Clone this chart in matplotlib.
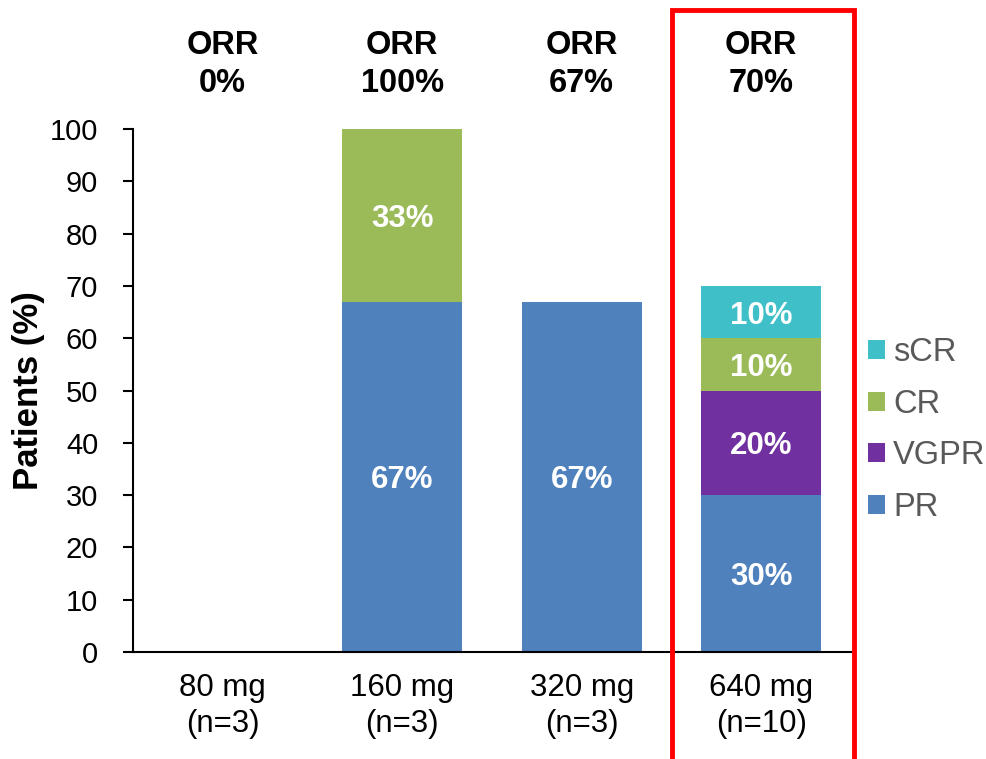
import matplotlib
matplotlib.use("Agg")
import matplotlib.pyplot as plt
from matplotlib.patches import Patch, Rectangle
import numpy as np

plt.rcParams['font.family'] = ['Liberation Sans', 'DejaVu Sans']

doses = ["80 mg\n(n=3)", "160 mg\n(n=3)", "320 mg\n(n=3)", "640 mg\n(n=10)"]
orr = ["ORR\n0%", "ORR\n100%", "ORR\n67%", "ORR\n70%"]
series_names = ["PR", "VGPR", "CR", "sCR"]
pr = [0, 67, 67, 30]
vgpr = [0, 0, 0, 20]
cr = [0, 33, 0, 10]
scr = [0, 0, 0, 10]
colors = ["#4F81BD", "#7030A0", "#9BBB59", "#3FC0C9"]
yticks = [0, 10, 20, 30, 40, 50, 60, 70, 80, 90, 100]

fig = plt.figure(figsize=(9.86, 7.59), dpi=100)
ax = fig.add_axes([133/986, 1-652/759, 718/986, (652-129)/759])

x = np.arange(len(doses))
bottom = np.zeros(len(doses))
for vals, name, c in zip([pr, vgpr, cr, scr], series_names, colors):
    vals = np.array(vals, dtype=float)
    ax.bar(x, vals, width=0.667, bottom=bottom, color=c, label=name)
    for xi, v, b in zip(x, vals, bottom):
        if v > 0:
            ax.text(xi, b + v/2, f"{int(v)}%", ha='center', va='center_baseline',
                    color='white', fontsize=22.5, fontweight='bold')
    bottom += vals

ax.set_xlim(-0.5, 3.5)
ax.set_ylim(0, 100)
ax.set_yticks(yticks)
ax.set_xticks(x)
ax.set_xticklabels(doses, fontsize=22.5, linespacing=1.27)
ax.tick_params(axis='y', labelsize=21, length=7, width=1.5, direction='out', pad=18)
ax.tick_params(axis='x', length=0, pad=15)
for s in ['top', 'right']:
    ax.spines[s].set_visible(False)
for s in ['left', 'bottom']:
    ax.spines[s].set_linewidth(1.5)
ax.set_ylabel("Patients (%)", fontsize=25, fontweight='bold')
ax.yaxis.set_label_coords(-0.1226, 0.5)

for xi, t in zip(x, orr):
    ax.text(xi, 1.124, t, transform=ax.get_xaxis_transform(), ha='center', va='center',
            fontsize=23.5, fontweight='bold', linespacing=1.3)

handles = [Patch(facecolor=c, label=n) for n, c in zip(series_names, colors)][::-1]
leg = fig.legend(handles=handles, loc='center left', bbox_to_anchor=(868/986, 1-430/759),
                 frameon=False, fontsize=23.5, handlelength=0.52, handleheight=0.52,
                 handletextpad=0.25, labelspacing=0.63, labelcolor='#595959',
                 borderaxespad=0, borderpad=0)

fig.patches.append(Rectangle((672/986, -0.05), (854-672)/986, 1.05 - 10/759,
                             transform=fig.transFigure, fill=False, edgecolor='#FF0000',
                             linewidth=3.5, zorder=10))

fig.savefig("out.png", dpi=100)
